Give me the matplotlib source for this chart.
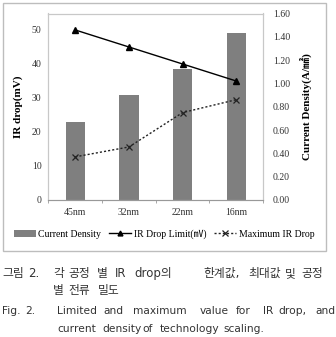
import matplotlib
matplotlib.use("Agg")
import matplotlib.pyplot as plt
from matplotlib.lines import Line2D
from matplotlib.patches import Patch, Rectangle
import numpy as np

categories = ["45nm", "32nm", "22nm", "16nm"]
current_density = [0.665, 0.90, 1.12, 1.43]
ir_drop_limit = [50, 45, 40, 35]
max_ir_drop = [12.7, 15.6, 25.7, 29.5]
left_ticks = [0, 10, 20, 30, 40, 50]
right_ticks = [0.0, 0.2, 0.4, 0.6, 0.8, 1.0, 1.2, 1.4, 1.6]

caption_lines = [
    [("그림", 2), ("2.", 28), ("각", 53), ("공정", 68), ("별", 97), ("IR", 115), ("drop의", 134),
     ("한계값,", 203), ("최대값", 248), ("및", 285), ("공정", 301)],
    [("별", 53), ("전류", 68), ("밀도", 98)],
    [("Fig.", 2), ("2.", 25), ("Limited", 57), ("and", 103), ("maximum", 133), ("value", 200),
     ("for", 236), ("IR", 263), ("drop,", 278), ("and", 315)],
    [("current", 57), ("density", 102), ("of", 142), ("technology", 160), ("scaling.", 223)],
]
caption_sizes = [8.5, 8.5, 7.7, 7.7]
caption_baselines = [277, 294, 314, 332]

W, H = 336, 337
fig = plt.figure(figsize=(W / 100, H / 100), dpi=100)
serif = ["Liberation Serif", "Noto Sans CJK KR", "DejaVu Serif"]
cap_family = ["DejaVu Sans", "Noto Sans CJK KR"]

def fx(px):
    return px / W

def fy(py):
    return 1 - py / H

# outer border
fig.patches.append(Rectangle((fx(2.5), fy(251)), fx(326) - fx(2.5), fy(3) - fy(251),
                             transform=fig.transFigure, fill=False, edgecolor="#bdbdbd", lw=1.0))

left, right, top, bottom = 48.5, 263, 13.5, 200
ax = fig.add_axes([fx(left), fy(bottom), fx(right) - fx(left), fy(top) - fy(bottom)])
ax2 = ax.twinx()

x = np.arange(len(categories))
ax2.bar(x, current_density, width=0.36, color="#7f7f7f", zorder=1)
ax.plot(x, ir_drop_limit, color="black", lw=1.0, marker="^", markersize=4, zorder=3)
ax.plot(x, max_ir_drop, color="#222222", lw=1.0, ls=(0, (1.5, 1.5)), marker="x",
        markersize=5, markeredgewidth=0.9, zorder=3)
ax.set_zorder(ax2.get_zorder() + 1)
ax.patch.set_visible(False)

ax.set_xlim(-0.5, 3.5)
ax.set_ylim(0, 54.85)
ax2.set_ylim(0, 1.6)
ax.set_yticks(left_ticks)
ax.set_yticklabels([str(v) for v in left_ticks], family=serif, fontsize=7, color="#333333")
ax2.set_yticks(right_ticks)
ax2.set_yticklabels([f"{v:.2f}" for v in right_ticks], family=serif, fontsize=7, color="#333333")
ax.set_xticks(x)
ax.set_xticklabels(categories, family=serif, fontsize=7, color="#333333")
ax.set_xticks([-0.5, 0.5, 1.5, 2.5, 3.5], minor=True)
ax.tick_params(axis="x", which="major", length=0, pad=6)
ax.tick_params(axis="x", which="minor", length=2.5, color="#999999", width=0.6)
ax.tick_params(axis="y", length=0, pad=5)
ax2.tick_params(axis="y", length=0, pad=7)

for a in (ax, ax2):
    for s in a.spines.values():
        s.set_color("#c8c8c8")
        s.set_linewidth(0.8)
ax.spines["bottom"].set_color("#999999")

ax.set_ylabel("IR drop(mV)", family=serif, fontsize=8, fontweight="bold", labelpad=6)
ax2.set_ylabel("Current Density(A/㎟)", family=serif, fontsize=8, fontweight="bold", labelpad=8)

handles = [
    Patch(facecolor="#7f7f7f", edgecolor="none"),
    Line2D([], [], color="black", lw=1.0, marker="^", markersize=3.5),
    Line2D([], [], color="#222222", lw=1.0, ls=(0, (1.5, 1.5)), marker="x", markersize=4.5,
           markeredgewidth=0.9),
]
labels = ["Current Density", "IR Drop Limit(㎷)", "Maximum IR Drop"]
fig.legend(handles, labels, loc="center", bbox_to_anchor=(fx(164), fy(234)), ncol=3,
           frameon=False, prop={"family": serif, "size": 7}, handlelength=2.3,
           handletextpad=0.25, columnspacing=0.8, borderpad=0)

for line, yy, fs in zip(caption_lines, caption_baselines, caption_sizes):
    for word, xx in line:
        fig.text(fx(xx), fy(yy), word, family=cap_family, fontsize=fs, color="#333333",
                 ha="left", va="baseline")

fig.savefig("out.png", dpi=100)
